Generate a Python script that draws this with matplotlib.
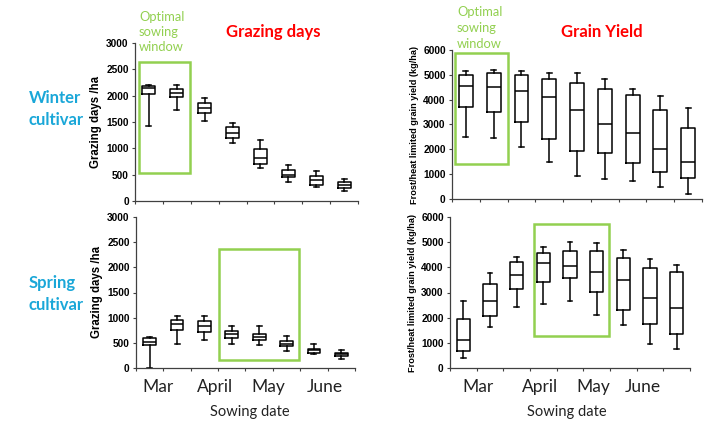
import matplotlib
matplotlib.use("Agg")
import matplotlib.pyplot as plt
from matplotlib.patches import Rectangle

# Grazing days /ha, winter cultivar (8 sowing dates)
gw_lo  = [1430, 1730, 1510, 1110, 620, 370, 270, 190]
gw_q1  = [2040, 1980, 1670, 1190, 710, 450, 300, 250]
gw_med = [2140, 2060, 1770, 1290, 810, 500, 390, 310]
gw_q3  = [2175, 2130, 1860, 1400, 990, 590, 470, 365]
gw_hi  = [2205, 2205, 1960, 1490, 1150, 690, 570, 425]

# Grazing days /ha, spring cultivar (8 sowing dates)
gs_lo  = [0, 480, 560, 480, 450, 340, 280, 180]
gs_q1  = [450, 750, 720, 590, 560, 430, 305, 232]
gs_med = [510, 880, 840, 670, 615, 480, 350, 270]
gs_q3  = [605, 960, 940, 740, 670, 530, 370, 298]
gs_hi  = [625, 1025, 1025, 830, 840, 640, 470, 362]

# Frost/heat limited grain yield (kg/ha), winter cultivar (9 sowing dates)
yw_lo  = [2490, 2440, 2090, 1470, 940, 800, 710, 500, 210]
yw_q1  = [3720, 3520, 3110, 2400, 1950, 1850, 1450, 1100, 840]
yw_med = [4550, 4500, 4360, 4100, 3590, 3010, 2640, 2010, 1510]
yw_q3  = [5000, 5060, 5010, 4820, 4690, 4420, 4190, 3590, 2870]
yw_hi  = [5150, 5210, 5170, 5060, 5060, 4820, 4420, 4150, 3680]

# Frost/heat limited grain yield (kg/ha), spring cultivar (9 sowing dates)
ys_lo  = [410, 1640, 2410, 2530, 2650, 2090, 1720, 940, 760]
ys_q1  = [680, 2060, 3130, 3410, 3580, 3020, 2290, 1730, 1370]
ys_med = [1100, 2670, 3710, 4160, 4070, 3830, 3490, 2780, 2390]
ys_q3  = [1930, 3330, 4220, 4550, 4660, 4630, 4390, 3990, 3820]
ys_hi  = [2670, 3770, 4430, 4820, 5000, 4960, 4670, 4350, 4080]

months = ["Mar", "April", "May", "June"]
graze_ticks = [0, 500, 1000, 1500, 2000, 2500, 3000]
yield_ticks = [0, 1000, 2000, 3000, 4000, 5000, 6000]

GREEN = "#92D050"
RED = "#FF0000"
CYAN = "#1AA7D8"
W, H = 705, 422

fig = plt.figure(figsize=(7.05, 4.22), dpi=100)


def px_axes(x0, x1, ytop, ybot):
    return fig.add_axes([x0 / W, 1 - ybot / H, (x1 - x0) / W, (ybot - ytop) / H])


def draw_boxes(ax, lo, q1, med, q3, hi, width):
    stats = [dict(whislo=a, q1=b, med=c, q3=d, whishi=e, fliers=[])
             for a, b, c, d, e in zip(lo, q1, med, q3, hi)]
    n = len(stats)
    pos = [i + 0.5 for i in range(n)]
    lp = dict(color="black", linewidth=1.1)
    ax.bxp(stats, positions=pos, widths=width, showfliers=False,
           boxprops=lp, medianprops=lp, whiskerprops=lp, capprops=lp,
           capwidths=0.18, manage_ticks=False)
    ax.set_xlim(0, n)
    ax.set_xticks(range(n + 1))
    ax.set_xticklabels([])
    for s in ("top", "right"):
        ax.spines[s].set_visible(False)
    for s in ("left", "bottom"):
        ax.spines[s].set_linewidth(0.9)
        ax.spines[s].set_color("#404040")
    ax.tick_params(axis="x", length=2.5, width=0.8, color="#404040")
    ax.tick_params(axis="y", length=2.5, width=0.8, color="#404040", pad=2)


def style_y(ax, ticks, label, fs_label):
    ax.set_ylim(ticks[0], ticks[-1])
    ax.set_yticks(ticks)
    ax.set_yticklabels([str(t) for t in ticks], fontsize=7.3,
                       fontweight="bold", family="Liberation Sans")
    ax.set_ylabel(label, fontsize=fs_label, fontweight="bold",
                  family="Liberation Sans", labelpad=3)


def window(ax, x0, x1, y0, y1):
    ax.add_patch(Rectangle((x0, y0), x1 - x0, y1 - y0, fill=False,
                           edgecolor=GREEN, linewidth=1.8, clip_on=False,
                           zorder=5))


def month_labels(ax, xs, xlabel_x):
    for m, x in zip(months, xs):
        ax.text(x, -0.126, m, transform=ax.get_xaxis_transform(),
                ha="center", va="center", fontsize=12.5, family="Lato",
                color="#222222")
    ax.text(xlabel_x, -0.29, "Sowing date", transform=ax.get_xaxis_transform(),
            ha="center", va="center", fontsize=10.5, family="Lato",
            color="#222222")


def ftext(x, y, s, **kw):
    fig.text(x / W, 1 - y / H, s, **kw)


# Grazing days, winter
ax1 = px_axes(135, 358, 43, 201)
draw_boxes(ax1, gw_lo, gw_q1, gw_med, gw_q3, gw_hi, 0.47)
style_y(ax1, graze_ticks, "Grazing days /ha", 8.3)
window(ax1, 0.14, 1.97, 537, 2640)

# Grazing days, spring
ax2 = px_axes(136, 355, 217, 368)
draw_boxes(ax2, gs_lo, gs_q1, gs_med, gs_q3, gs_hi, 0.47)
style_y(ax2, graze_ticks, "Grazing days /ha", 8.3)
window(ax2, 3.03, 5.95, 166, 2371)
month_labels(ax2, [0.82, 2.87, 4.84, 6.88], 4.16)

# Grain yield, winter
ax3 = px_axes(452, 702, 50, 199)
draw_boxes(ax3, yw_lo, yw_q1, yw_med, yw_q3, yw_hi, 0.5)
style_y(ax3, yield_ticks, "Frost/heat limited grain yield (kg/ha)", 6.6)
window(ax3, 0.11, 2.02, 1406, 5866)

# Grain yield, spring
ax4 = px_axes(450, 690, 217, 368)
draw_boxes(ax4, ys_lo, ys_q1, ys_med, ys_q3, ys_hi, 0.5)
style_y(ax4, yield_ticks, "Frost/heat limited grain yield (kg/ha)", 6.6)
window(ax4, 3.15, 5.96, 1277, 5720)
month_labels(ax4, [1.05, 3.37, 5.39, 7.23], 4.38)

# Panel titles
ftext(273, 32, "Grazing days", ha="center", va="center", fontsize=12,
      fontweight="bold", color=RED, family="Lato")
ftext(602, 32, "Grain Yield", ha="center", va="center", fontsize=12,
      fontweight="bold", color=RED, family="Lato")

# Optimal sowing window notes
for xl, ys in ((139, (17, 32, 47)), (457, (12, 28, 44))):
    for line, y in zip(("Optimal", "sowing", "window"), ys):
        ftext(xl, y, line, ha="left", va="center", fontsize=9.3,
              color=GREEN, family="Lato")

# Cultivar labels
for y, line in ((98, "Winter"), (120, "cultivar"),
                (283, "Spring"), (305, "cultivar")):
    ftext(29, y, line, ha="left", va="center", fontsize=12,
          fontweight="bold", color=CYAN, family="Lato")

fig.savefig("out.png", dpi=100)
